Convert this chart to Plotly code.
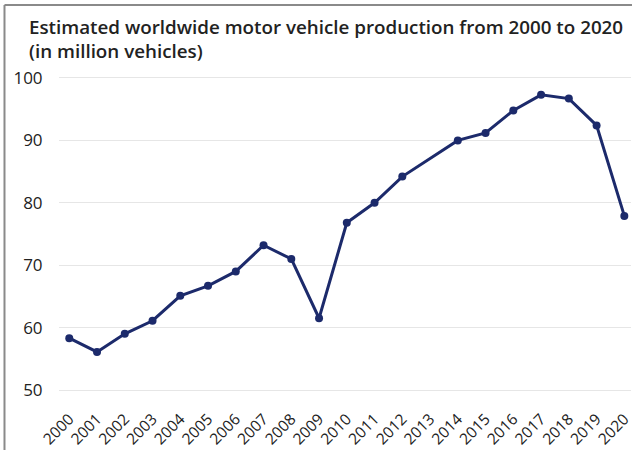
import plotly.graph_objects as go

# Worldwide motor vehicle production, million vehicles (2013 not reported)
years = [2000, 2001, 2002, 2003, 2004, 2005, 2006, 2007, 2008, 2009, 2010,
         2011, 2012, 2014, 2015, 2016, 2017, 2018, 2019, 2020]
production = [58.3, 56.1, 59.0, 61.1, 65.1, 66.7, 69.0, 73.2, 71.0, 61.5, 76.8,
              80.0, 84.2, 90.0, 91.2, 94.8, 97.3, 96.7, 92.4, 77.9]
year_ticks = list(range(2000, 2021))
value_ticks = [50, 60, 70, 80, 90, 100]

NAVY = "#1c2a6b"
TEXT = "#222222"
FONT = "Open Sans"

fig = go.Figure()
fig.add_trace(go.Scatter(
    x=years, y=production, mode="lines+markers",
    line=dict(color=NAVY, width=3),
    marker=dict(color=NAVY, size=8),
    hoverinfo="x+y", showlegend=False,
))

fig.update_layout(
    width=636, height=450,
    margin=dict(l=59, r=5, t=70, b=58, autoexpand=False),
    paper_bgcolor="white", plot_bgcolor="white",
    xaxis=dict(
        range=[1999.63, 2020.24], tickmode="array", tickvals=year_ticks,
        ticktext=[str(y) for y in year_ticks], tickangle=-45,
        showgrid=False, zeroline=False, showline=False, automargin=False,
        ticks="outside", ticklen=11, tickcolor="rgba(0,0,0,0)",
        tickfont=dict(family=FONT, size=15.5, color=TEXT),
    ),
    yaxis=dict(
        range=[49.68, 101.28], tickmode="array", tickvals=value_ticks,
        showgrid=True, gridcolor="#e6e6e6", gridwidth=1,
        zeroline=False, showline=False, automargin=False,
        ticks="outside", ticklen=12, tickcolor="rgba(0,0,0,0)",
        tickfont=dict(family=FONT, size=17, color=TEXT),
    ),
    annotations=[dict(
        text="Estimated worldwide motor vehicle production from 2000 to 2020<br>(in million vehicles)",
        xref="paper", yref="paper", x=-0.056, y=1.18,
        xanchor="left", yanchor="top", align="left", showarrow=False,
        font=dict(family=FONT, size=18.8, color=TEXT, weight=600),
    )],
    shapes=[
        dict(type="line", xref="paper", yref="paper",
             x0=-0.0953, x1=1.0017, y0=1.2019, y1=1.2019,
             line=dict(color="#8a8a8a", width=2)),
        dict(type="line", xref="paper", yref="paper",
             x0=-0.0953, x1=-0.0953, y0=1.2019, y1=-0.2,
             line=dict(color="#8a8a8a", width=2)),
    ],
)

fig.write_html("out.html")
